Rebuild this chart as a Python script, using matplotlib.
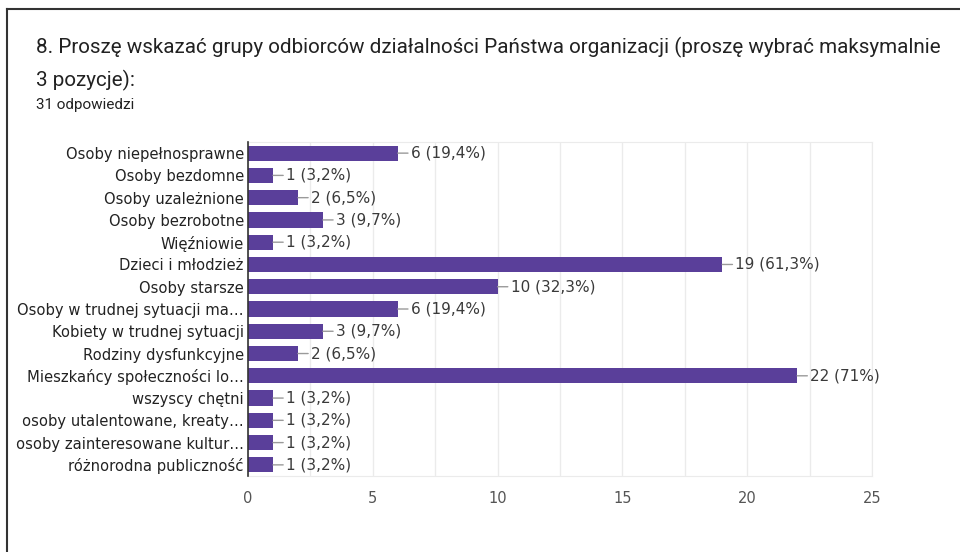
import matplotlib
matplotlib.use('Agg')
import matplotlib.pyplot as plt
from matplotlib.lines import Line2D
from matplotlib.ticker import MultipleLocator

plt.rcParams['font.family'] = ['DejaVu Sans']

# dane
kategorie = [
    'Osoby niepełnosprawne', 'Osoby bezdomne', 'Osoby uzależnione',
    'Osoby bezrobotne', 'Więźniowie', 'Dzieci i młodzież', 'Osoby starsze',
    'Osoby w trudnej sytuacji ma…', 'Kobiety w trudnej sytuacji',
    'Rodziny dysfunkcyjne', 'Mieszkańcy społeczności lo…', 'wszyscy chętni',
    'osoby utalentowane, kreaty…', 'osoby zainteresowane kultur…',
    'różnorodna publiczność',
]
wartosci = [6, 1, 2, 3, 1, 19, 10, 6, 3, 2, 22, 1, 1, 1, 1]
procenty = ['19,4%', '3,2%', '6,5%', '9,7%', '3,2%', '61,3%', '32,3%', '19,4%',
            '9,7%', '6,5%', '71%', '3,2%', '3,2%', '3,2%', '3,2%']
x_ticks = [0, 5, 10, 15, 20, 25]

tytul = ('8. Proszę wskazać grupy odbiorców działalności Państwa organizacji '
         '(proszę wybrać maksymalnie')
tytul2 = '3 pozycje):'
podtytul = '31 odpowiedzi'

KOLOR = '#5a3f9a'

fig = plt.figure(figsize=(9.6, 5.52), dpi=100)
ax = fig.add_axes([248 / 960, 1 - 476 / 552, 624 / 960, 334 / 552])

pozycje = list(range(len(kategorie)))
ax.barh(pozycje, wartosci, height=0.68, color=KOLOR, zorder=3)
ax.set_ylim(len(kategorie) - 0.5, -0.5)
ax.set_xlim(0, 25)

for y, v, p in zip(pozycje, wartosci, procenty):
    ax.annotate(f'{v} ({p})', xy=(v, y), xytext=(13, 0), textcoords='offset pixels',
                ha='left', va='center', fontsize=11, color='#3a3a3a',
                arrowprops=dict(arrowstyle='-', color='#9a9a9a', lw=1,
                                shrinkA=0, shrinkB=0))

ax.set_yticks(pozycje)
ax.set_yticklabels(kategorie, fontsize=10.6, color='#222222')
ax.set_xticks(x_ticks)
ax.xaxis.set_minor_locator(MultipleLocator(2.5))
ax.tick_params(axis='x', which='both', length=0, pad=11, labelsize=10.5, labelcolor='#555555')
ax.tick_params(axis='y', length=0, pad=3)
ax.grid(axis='x', which='both', color='#ebebeb', lw=1, zorder=0)

for s in ['top', 'right', 'bottom']:
    ax.spines[s].set_color('#ebebeb')
ax.spines['left'].set_color('#333333')
ax.spines['left'].set_linewidth(1.2)
ax.spines['left'].set_zorder(4)

# tytuł
fig.text(36 / 960, 1 - 47 / 552, tytul, fontsize=14.9, color='#222222',
         ha='left', va='center', family=['Roboto', 'DejaVu Sans'])
fig.text(36 / 960, 1 - 80 / 552, tytul2, fontsize=14.9, color='#222222',
         ha='left', va='center', family=['Roboto', 'DejaVu Sans'])
fig.text(36 / 960, 1 - 105 / 552, podtytul, fontsize=11, color='#222222',
         ha='left', va='center', family=['Roboto', 'DejaVu Sans'])

# ramka
fig.add_artist(Line2D([7 / 960, 1], [1 - 9 / 552, 1 - 9 / 552], color='#333333', lw=1.5))
fig.add_artist(Line2D([7 / 960, 7 / 960], [0, 1 - 9 / 552], color='#333333', lw=1.5))

fig.savefig('out.png', dpi=100)
